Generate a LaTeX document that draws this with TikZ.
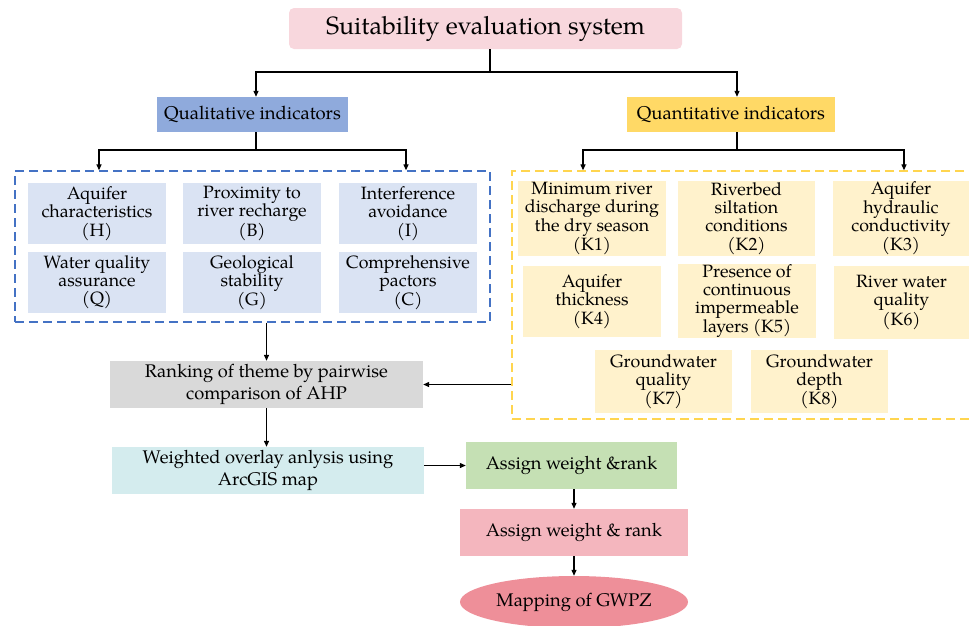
\documentclass[tikz,border=0pt]{standalone}
\usepackage{fontspec}
\setmainfont{TeX Gyre Pagella}
\usetikzlibrary{arrows.meta,shapes.geometric}
\definecolor{titlepink}{HTML}{F8D7DD}
\definecolor{qualblue}{HTML}{8FAADC}
\definecolor{quantyel}{HTML}{FFD966}
\definecolor{lblue}{HTML}{DAE3F3}
\definecolor{lyel}{HTML}{FFF2CC}
\definecolor{dblue}{HTML}{4472C4}
\definecolor{dyel}{HTML}{FFD54F}
\definecolor{lgray}{HTML}{D9D9D9}
\definecolor{lcyan}{HTML}{D4ECEE}
\definecolor{lgreen}{HTML}{C5E0B4}
\definecolor{pinkbox}{HTML}{F4B6BE}
\definecolor{ellred}{HTML}{EE8F99}
\begin{document}
\begin{tikzpicture}[x=1pt,y=-1pt,
  box/.style={draw=none,inner sep=0pt,align=center,text=black,font=\fontsize{17.8}{18.2}\selectfont},
  bigbox/.style={box,font=\fontsize{18.3}{21.5}\selectfont},
  dbox/.style={inner sep=0pt,line width=1.3pt,dash pattern=on 9pt off 5pt},
  ln/.style={line width=1.2pt,black},
  arr/.style={ln,-{Triangle[length=6pt,width=5pt]}}]
\useasboundingbox (0,0) rectangle (969,625);

% top level
\node[box,fill=titlepink,rounded corners=5pt,minimum width=393pt,minimum height=41pt,font=\fontsize{25}{30}\selectfont] (title) at (485.5,28.5) {Suitability evaluation system};
\node[box,fill=qualblue,minimum width=191pt,minimum height=35pt,font=\fontsize{18.5}{21}\selectfont] (qual) at (252.5,114.5) {Qualitative indicators};
\node[box,fill=quantyel,minimum width=208pt,minimum height=35pt,font=\fontsize{18.5}{21}\selectfont] (quant) at (731,114.5) {Quantitative indicators};

% dashed groups
\node[dbox,draw=dblue,minimum width=475pt,minimum height=151pt] (lbox) at (252.5,246.5) {};
\node[dbox,draw=dyel,minimum width=473pt,minimum height=248pt] (rbox) at (748.5,295) {};

% qualitative items
\node[box,fill=lblue,minimum width=138pt,minimum height=61pt] (H) at (97,213.5) {Aquifer\\characteristics\\(H)};
\node[box,fill=lblue,minimum width=138pt,minimum height=61pt] (B) at (252,213.5) {Proximity to\\river recharge\\(B)};
\node[box,fill=lblue,minimum width=138pt,minimum height=61pt] (I) at (408,213.5) {Interference\\avoidance\\(I)};
\node[box,fill=lblue,minimum width=138pt,minimum height=61pt] (Q) at (97,282.5) {Water quality\\assurance\\(Q)};
\node[box,fill=lblue,minimum width=138pt,minimum height=61pt] (G) at (252,282.5) {Geological\\stability\\(G)};
\node[box,fill=lblue,minimum width=138pt,minimum height=61pt] (C) at (408,282.5) {Comprehensive\\pactors\\(C)};

% quantitative items
\node[box,fill=lyel,minimum width=148pt,minimum height=75pt] (K1) at (592,218.5) {Minimum river\\discharge during\\the dry season\\(K1)};
\node[box,fill=lyel,minimum width=137pt,minimum height=75pt] (K2) at (746.5,218.5) {Riverbed\\siltation\\conditions\\(K2)};
\node[box,fill=lyel,minimum width=136pt,minimum height=75pt] (K3) at (901,218.5) {Aquifer\\hydraulic\\conductivity\\(K3)};
\node[box,fill=lyel,minimum width=138pt,minimum height=71pt] (K4) at (592,301.5) {Aquifer\\thickness\\(K4)};
\node[box,fill=lyel,minimum width=138pt,minimum height=74pt] (K5) at (747,301) {Presence of\\continuous\\impermeable\\layers (K5)};
\node[box,fill=lyel,minimum width=135pt,minimum height=73pt] (K6) at (901.5,302.5) {River water\\quality\\(K6)};
\node[box,fill=lyel,minimum width=137pt,minimum height=63pt] (K7) at (663.5,381.5) {Groundwater\\quality\\(K7)};
\node[box,fill=lyel,minimum width=137pt,minimum height=63pt] (K8) at (819.5,381.5) {Groundwater\\depth\\(K8)};

% lower flow
\node[bigbox,fill=lgray,minimum width=313pt,minimum height=47pt] (rank) at (266.5,384.5) {Ranking of theme by pairwise\\comparison of AHP};
\node[bigbox,fill=lcyan,minimum width=312pt,minimum height=47pt] (wov) at (268,470.5) {Weighted overlay anlysis using\\ArcGIS map};
\node[bigbox,fill=lgreen,minimum width=211pt,minimum height=47pt] (green) at (571.5,465.5) {Assign weight \&rank};
\node[bigbox,fill=pinkbox,minimum width=228pt,minimum height=47pt] (pink) at (574,532.5) {Assign weight \& rank};
\node[bigbox,ellipse,fill=ellred,minimum width=228pt,minimum height=52pt] (ell) at (574,602) {Mapping of GWPZ};

% connectors
\coordinate (j1) at (490,72);
\draw[ln] ([xshift=4.5pt]title.south) -- (j1);
\draw[arr] (j1) -| ([xshift=3.5pt]qual.north);
\draw[arr] (j1) -| ([xshift=6pt]quant.north);

\coordinate (j2) at (256,150);
\draw[ln] ([xshift=3.5pt]qual.south) -- (j2);
\draw[arr] (j2) -| ([xshift=-153.5pt]lbox.north);
\draw[arr] (j2) -| ([xshift=153.5pt]lbox.north);

\coordinate (j3) at (737,150);
\draw[ln] ([xshift=6pt]quant.south) -- (j3);
\draw[arr] (j3) -| ([xshift=-165.5pt]rbox.north);
\draw[arr] (j3) -| ([xshift=155.5pt]rbox.north);

\draw[arr] (lbox.south -| rank.north) -- (rank.north);
\draw[arr] (rbox.west |- rank.east) -- (rank.east);
\draw[arr] (rank.south) -- (rank.south |- wov.north);
\draw[arr] (wov.east |- green.west) -- (green.west);
\draw[arr] (pink.north |- green.south) -- (pink.north);
\draw[arr] (pink.south) -- (ell.north);
\end{tikzpicture}
\end{document}
